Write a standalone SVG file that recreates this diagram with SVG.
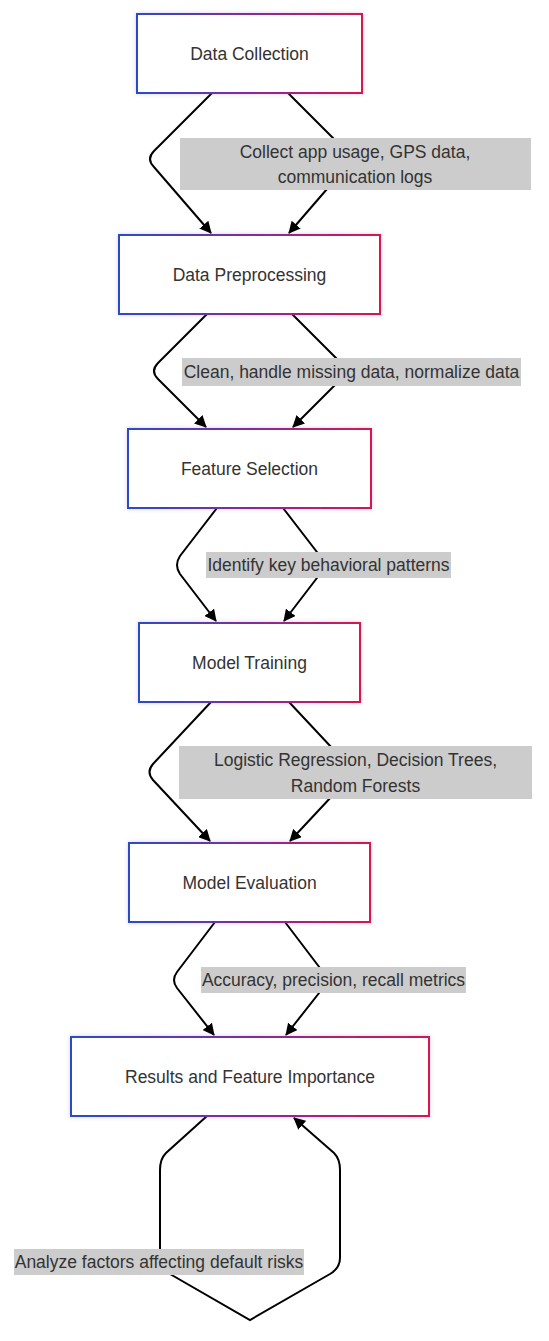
<svg xmlns="http://www.w3.org/2000/svg" width="549" height="1341" viewBox="0 0 549 1341">
<defs>
<linearGradient id="g" x1="0" y1="0" x2="1" y2="0">
<stop offset="0" stop-color="#2a4cc6"/>
<stop offset="0.5" stop-color="#822c9a"/>
<stop offset="1" stop-color="#d8174e"/>
</linearGradient>
<filter id="sh" x="-10%" y="-20%" width="120%" height="140%">
<feGaussianBlur in="SourceAlpha" stdDeviation="2"/>
<feOffset dx="0" dy="0" result="b"/>
<feFlood flood-color="#a070c0" flood-opacity="0.35"/>
<feComposite in2="b" operator="in"/>
<feMerge><feMergeNode/><feMergeNode in="SourceGraphic"/></feMerge>
</filter>
<marker id="ah" viewBox="0 0 12 12" refX="11" refY="6" markerWidth="12" markerHeight="12" markerUnits="userSpaceOnUse" orient="auto">
<path d="M0,0 L12,6 L0,12 Z" fill="#000"/>
</marker>
</defs>
<style>
.node rect{fill:#fff;stroke:url(#g);stroke-width:2;filter:url(#sh)}
.node text,.lbl text{font-family:"Liberation Sans",Arial,sans-serif;font-size:17.5px;fill:#333;text-anchor:middle;dominant-baseline:central}
.edge{fill:none;stroke:#000;stroke-width:2;marker-end:url(#ah)}
.lbl rect{fill:#cccccc}
</style>
<rect width="549" height="1341" fill="#fff"/>
<g id="connectors">
<path class="edge" d="M212,93 L154,151 Q146,159 154,167 L211,233"/>
<path class="edge" d="M288,93 L346,151 Q354,159 346,167 L289,233"/>
<path class="edge" d="M207,314 L158,363 Q150,371 158,379 L206,427"/>
<path class="edge" d="M292,314 L341,363 Q349,371 341,379 L293,427"/>
<path class="edge" d="M217,508 L180,556 Q174,565 180,574 L216,621"/>
<path class="edge" d="M283,508 L320,556 Q326,565 320,574 L284,621"/>
<path class="edge" d="M211,702 L153,764 Q146,772 153,780 L210,841"/>
<path class="edge" d="M289,702 L347,764 Q354,772 347,780 L290,841"/>
<path class="edge" d="M215,922 L177,972 Q171,980 177,988 L214,1035"/>
<path class="edge" d="M285,922 L323,972 Q329,980 323,988 L286,1035"/>
<path class="edge" d="M207,1116 L166,1153 Q160,1159 160,1170 L160,1258 Q160,1268 170,1274 L250,1320 L330,1274 Q340,1268 340,1258 L340,1170 Q340,1159 334,1153 L294,1118"/>
</g>
<g id="labels">
<g class="lbl"><rect x="180" y="138" width="351" height="52"/><text x="355" y="152">Collect app usage, GPS data,</text><text x="355" y="177">communication logs</text></g>
<g class="lbl"><rect x="182" y="358" width="339" height="28"/><text x="351.5" y="372">Clean, handle missing data, normalize data</text></g>
<g class="lbl"><rect x="206" y="552" width="245" height="26"/><text x="328.5" y="565">Identify key behavioral patterns</text></g>
<g class="lbl"><rect x="179" y="746" width="353" height="53"/><text x="355.5" y="760">Logistic Regression, Decision Trees,</text><text x="355.5" y="786">Random Forests</text></g>
<g class="lbl"><rect x="201" y="967" width="265" height="26"/><text x="333.5" y="980">Accuracy, precision, recall metrics</text></g>
<g class="lbl"><rect x="14" y="1249" width="290" height="26"/><text x="159" y="1262">Analyze factors affecting default risks</text></g>
</g>
<g id="n1" class="node"><rect x="137" y="14" width="225" height="79"/><text x="249.5" y="54">Data Collection</text></g>
<g id="n2" class="node"><rect x="119" y="235" width="261" height="79"/><text x="249.5" y="275">Data Preprocessing</text></g>
<g id="n3" class="node"><rect x="128" y="429" width="243" height="79"/><text x="249.5" y="469">Feature Selection</text></g>
<g id="n4" class="node"><rect x="139" y="623" width="221" height="79"/><text x="249.5" y="663">Model Training</text></g>
<g id="n5" class="node"><rect x="129" y="843" width="241" height="79"/><text x="249.5" y="883">Model Evaluation</text></g>
<g id="n6" class="node"><rect x="71" y="1037" width="358" height="79"/><text x="250" y="1077">Results and Feature Importance</text></g>
</svg>
